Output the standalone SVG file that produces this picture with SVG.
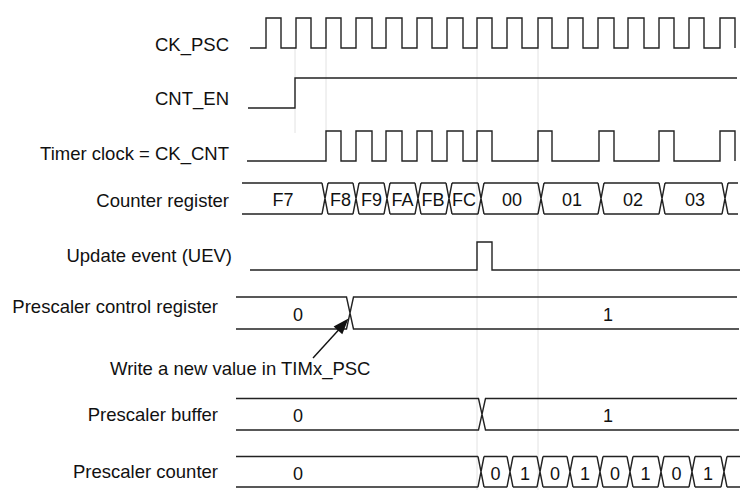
<svg xmlns="http://www.w3.org/2000/svg" width="752" height="493" viewBox="0 0 752 493">
<defs>
<style>
.sig{fill:none;stroke:#222;stroke-width:1.4;}
.grid{fill:none;stroke:#e2e2e2;stroke-width:1;}
.lbl{font-family:"Liberation Sans",Arial,sans-serif;font-size:18.5px;fill:#111;text-anchor:end;}
.val{font-family:"Liberation Sans",Arial,sans-serif;font-size:18px;fill:#111;text-anchor:middle;}
.note{font-family:"Liberation Sans",Arial,sans-serif;font-size:18.5px;fill:#111;}
</style>
</defs>
<rect width="752" height="493" fill="#fff"/>
<g id="gridlines">
<path class="grid" d="M295,48 V133 M326,48 V131 M477,48 V490 M538,48 V490"/>
</g>
<g id="ck_psc">
<text class="lbl" x="229" y="50.5">CK_PSC</text>
<path class="sig" d="M250,48 H266 V18 H281 V48 H296 V18 H311 V48 H326 V18 H341 V48 H356 V18 H372 V48 H386 V18 H402 V48 H417 V18 H432 V48 H447 V18 H463 V48 H477 V18 H492 V48 H507 V18 H522 V48 H538 V18 H552 V48 H568 V18 H583 V48 H598 V18 H614 V48 H628 V18 H644 V48 H659 V18 H674 V48 H689 V18 H704 V48 H720 V18 H735 V48"/>
</g>
<g id="cnt_en">
<text class="lbl" x="229" y="105">CNT_EN</text>
<path class="sig" d="M248,108 H295 V78 H737"/>
</g>
<g id="ck_cnt">
<text class="lbl" x="229" y="160">Timer clock = CK_CNT</text>
<path class="sig" d="M247,161 H326 V131 H341 V161 H356 V131 H372 V161 H386 V131 H402 V161 H417 V131 H432 V161 H447 V131 H463 V161 H477 V131 H492 V161 H538 V131 H552 V161 H599 V131 H614 V161 H659 V131 H674 V161 H720 V131 H735 V161"/>
</g>
<g id="counter_register">
<text class="lbl" x="229" y="206.5">Counter register</text>
<path class="sig" d="M242,183 H322 M328,183 H353 M359,183 H384 M390,183 H415 M421,183 H446 M452,183 H478 M484,183 H538 M544,183 H598 M604,183 H659 M665,183 H722 M728,183 H738 M242,214 H322 M328,214 H353 M359,214 H384 M390,214 H415 M421,214 H446 M452,214 H478 M484,214 H538 M544,214 H598 M604,214 H659 M665,214 H722 M728,214 H738 M322,183 L328,214 M322,214 L328,183 M353,183 L359,214 M353,214 L359,183 M384,183 L390,214 M384,214 L390,183 M415,183 L421,214 M415,214 L421,183 M446,183 L452,214 M446,214 L452,183 M478,183 L484,214 M478,214 L484,183 M538,183 L544,214 M538,214 L544,183 M598,183 L604,214 M598,214 L604,183 M659,183 L665,214 M659,214 L665,183 M722,183 L728,214 M722,214 L728,183"/>
<text class="val" x="283" y="206">F7</text>
<text class="val" x="340.5" y="206">F8</text>
<text class="val" x="371.5" y="206">F9</text>
<text class="val" x="402.5" y="206">FA</text>
<text class="val" x="433" y="206">FB</text>
<text class="val" x="464" y="206">FC</text>
<text class="val" x="512" y="206">00</text>
<text class="val" x="572" y="206">01</text>
<text class="val" x="633" y="206">02</text>
<text class="val" x="695" y="206">03</text>
</g>
<g id="uev">
<text class="lbl" x="232" y="261.5">Update event (UEV)</text>
<path class="sig" d="M250,270 H477 V242 H492 V270 H740"/>
</g>
<g id="prescaler_control">
<text class="lbl" x="218" y="313">Prescaler control register</text>
<path class="sig" d="M236,297 H346.5 L353.5,329 H739 M236,329 H346.5 L353.5,297 H737"/>
<text class="val" x="298" y="320.5">0</text>
<text class="val" x="608" y="320.5">1</text>
</g>
<g id="write_note">
<text class="note" x="110" y="375">Write a new value in TIMx_PSC</text>
</g>
<g id="connectors">
<path d="M313,358 L339,329.5" fill="none" stroke="#111" stroke-width="1.4"/>
<polygon points="348.5,318.5 342.3,334.2 333.6,326.4" fill="#111"/>
</g>
<g id="prescaler_buffer">
<text class="lbl" x="218" y="421">Prescaler buffer</text>
<path class="sig" d="M236,398.5 H478.5 L485.5,430 H739 M236,430 H478.5 L485.5,398.5 H737"/>
<text class="val" x="298" y="421.5">0</text>
<text class="val" x="608" y="421.5">1</text>
</g>
<g id="prescaler_counter">
<text class="lbl" x="218" y="478">Prescaler counter</text>
<path class="sig" d="M236,456.5 H478 M484,456.5 H507 M513,456.5 H537 M543,456.5 H567 M573,456.5 H597 M603,456.5 H627 M633,456.5 H658 M664,456.5 H689 M695,456.5 H721 M727,456.5 H740 M236,487 H478 M484,487 H507 M513,487 H537 M543,487 H567 M573,487 H597 M603,487 H627 M633,487 H658 M664,487 H689 M695,487 H721 M727,487 H740 M478,456.5 L484,487 M478,487 L484,456.5 M507,456.5 L513,487 M507,487 L513,456.5 M537,456.5 L543,487 M537,487 L543,456.5 M567,456.5 L573,487 M567,487 L573,456.5 M597,456.5 L603,487 M597,487 L603,456.5 M627,456.5 L633,487 M627,487 L633,456.5 M658,456.5 L664,487 M658,487 L664,456.5 M689,456.5 L695,487 M689,487 L695,456.5 M721,456.5 L727,487 M721,487 L727,456.5"/>
<text class="val" x="298" y="480">0</text>
<text class="val" x="495.5" y="480">0</text>
<text class="val" x="525" y="480">1</text>
<text class="val" x="555" y="480">0</text>
<text class="val" x="585" y="480">1</text>
<text class="val" x="615" y="480">0</text>
<text class="val" x="645.5" y="480">1</text>
<text class="val" x="676.5" y="480">0</text>
<text class="val" x="708" y="480">1</text>
</g>
</svg>
